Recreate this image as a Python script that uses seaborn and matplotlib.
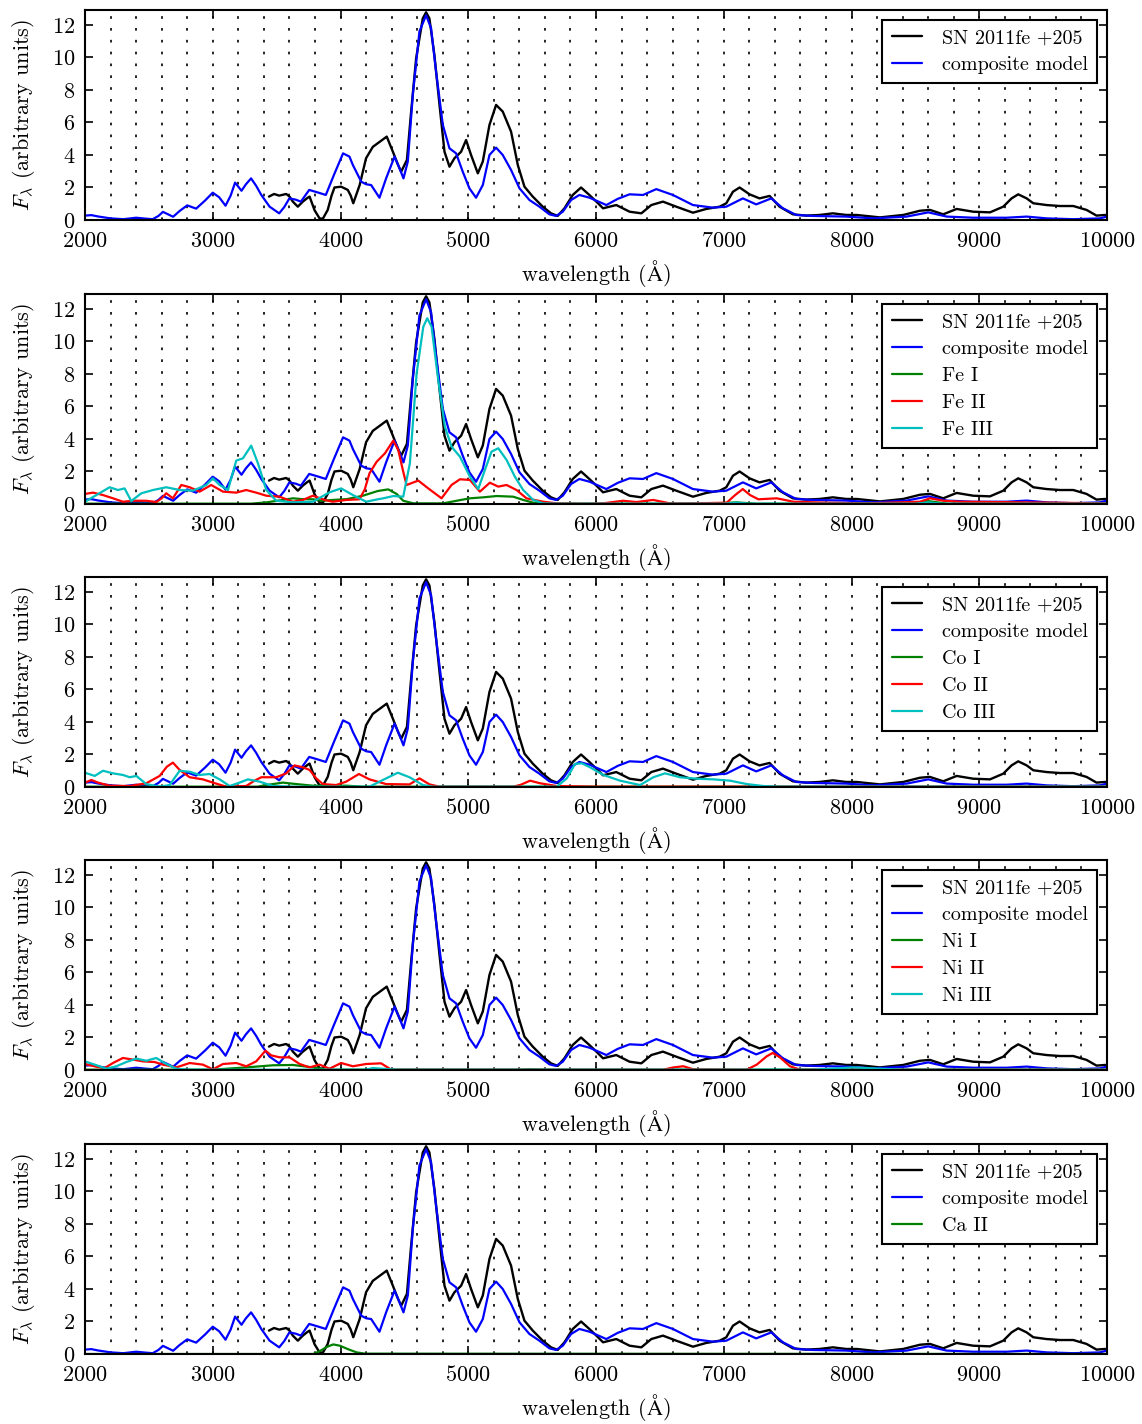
import matplotlib
matplotlib.use("Agg")
import matplotlib.pyplot as plt
from matplotlib.ticker import MultipleLocator
import seaborn as sns

# ---------------------------------------------------------------- data
obs_wl = [3440, 3480, 3520, 3575, 3600, 3627, 3666, 3705, 3740, 3758, 3797, 3836, 3862, 3900,
          3930, 3953, 4005, 4057, 4080, 4100, 4150, 4200, 4253, 4305, 4362, 4410, 4450, 4475,
          4520, 4553, 4592, 4644, 4670, 4696, 4735, 4775, 4814, 4853, 4892, 4944, 4983, 5022,
          5075, 5114, 5166, 5218, 5270, 5335, 5388, 5440, 5505, 5583, 5648, 5700, 5753, 5818,
          5883, 5948, 6003, 6055, 6159, 6263, 6355, 6433, 6524, 6628, 6759, 6863, 6968, 7020,
          7072, 7124, 7202, 7280, 7359, 7437, 7541, 7645, 7750, 7854, 7958, 8040, 8223, 8405,
          8536, 8614, 8718, 8823, 8953, 9084, 9188, 9253, 9305, 9371, 9423, 9527, 9632, 9736,
          9840, 9918, 9984, 10000]
obs_fl = [1.44, 1.6, 1.5, 1.6, 1.45, 1.13, 0.82, 1.13, 1.35, 1.44, 0.6, 0.1, 0.08, 0.62,
          1.5, 2.0, 2.05, 1.85, 1.5, 1.03, 2.15, 3.8, 4.5, 4.8, 5.13, 4.2, 3.4, 2.97,
          3.7, 6.67, 9.95, 12.4, 12.78, 12.4, 10.15, 7.08, 4.2, 3.28, 3.8, 4.2, 4.92, 4.0,
          2.87, 3.6, 5.85, 7.08, 6.67, 5.44, 3.38, 2.05, 1.44, 0.82, 0.41, 0.25, 0.72, 1.54,
          2.0, 1.54, 1.13, 0.72, 0.92, 0.51, 0.41, 0.92, 1.13, 0.82, 0.45, 0.68, 0.82, 1.03,
          1.74, 2.0, 1.58, 1.33, 1.48, 0.82, 0.35, 0.27, 0.31, 0.41, 0.31, 0.31, 0.16, 0.31,
          0.57, 0.62, 0.35, 0.68, 0.51, 0.47, 0.82, 1.33, 1.58, 1.33, 1.03, 0.92, 0.86, 0.86,
          0.62, 0.27, 0.31, 0.3]

model_wl = [2000, 2050, 2100, 2200, 2300, 2400, 2480, 2530, 2575, 2610, 2650, 2690, 2740, 2800,
            2870, 2940, 3000, 3050, 3100, 3140, 3175, 3225, 3260, 3300, 3340, 3380, 3445, 3520,
            3560, 3600, 3650, 3690, 3755, 3820, 3885, 3950, 4020, 4070, 4097, 4162, 4200, 4240,
            4305, 4357, 4423, 4462, 4493, 4527, 4566, 4618, 4670, 4709, 4748, 4801, 4853, 4905,
            4957, 5009, 5061, 5114, 5166, 5218, 5270, 5335, 5401, 5479, 5557, 5635, 5687, 5740,
            5805, 5870, 5950, 6081, 6170, 6263, 6368, 6472, 6602, 6759, 6915, 7020, 7150, 7254,
            7372, 7463, 7567, 7698, 7958, 8171, 8432, 8601, 8745, 8953, 9214, 9371, 9527, 9736,
            9944, 10000]
model_fl = [0.27, 0.3, 0.22, 0.1, 0.05, 0.14, 0.08, 0.05, 0.25, 0.5, 0.35, 0.2, 0.55, 0.9,
            0.7, 1.2, 1.68, 1.4, 0.88, 1.5, 2.3, 1.8, 2.2, 2.56, 2.1, 1.54, 0.82, 0.41,
            0.8, 1.33, 1.25, 1.13, 1.85, 1.7, 1.54, 2.8, 4.1, 3.9, 3.38, 2.36, 2.2, 2.15,
            1.37, 2.56, 3.9, 3.18, 2.56, 3.6, 7.7, 11.6, 12.6, 11.8, 9.13, 5.85, 4.41, 4.1,
            2.97, 1.95, 1.37, 2.15, 4.0, 4.45, 4.0, 3.08, 1.95, 1.23, 0.82, 0.35, 0.25, 0.51,
            1.23, 1.54, 1.37, 0.92, 1.3, 1.58, 1.54, 1.9, 1.54, 0.92, 0.76, 0.82, 1.33, 0.96,
            1.33, 0.72, 0.31, 0.25, 0.21, 0.1, 0.21, 0.47, 0.21, 0.14, 0.14, 0.21, 0.1, 0.05,
            0.1, 0.21]

fe1_wl = [2000, 3300, 3419, 3550, 3627, 3700, 3784, 3850, 3940, 4050, 4175, 4292, 4374, 4439,
          4491, 4570, 4804, 4909, 5013, 5117, 5222, 5352, 5430, 5508, 5600, 6900, 7100, 7250,
          8450, 8600, 8750, 10000]
fe1_fl = [0.02, 0.02, 0.1, 0.25, 0.35, 0.3, 0.29, 0.2, 0.25, 0.3, 0.51, 0.8, 0.9, 0.62,
          0.2, 0.04, 0.04, 0.2, 0.35, 0.41, 0.49, 0.45, 0.25, 0.08, 0.02, 0.02, 0.1, 0.02,
          0.02, 0.18, 0.02, 0.02]

fe2_wl = [2000, 2063, 2141, 2219, 2297, 2376, 2480, 2558, 2600, 2636, 2688, 2754, 2819, 2897,
          2988, 3080, 3184, 3262, 3340, 3419, 3523, 3627, 3705, 3784, 3875, 3940, 4045, 4149,
          4190, 4227, 4283, 4348, 4413, 4452, 4491, 4517, 4609, 4687, 4791, 4869, 4935, 5013,
          5091, 5169, 5235, 5300, 5378, 5456, 5587, 5691, 5926, 6056, 6212, 6317, 6447, 6578,
          6763, 7023, 7089, 7149, 7206, 7271, 7415, 7545, 7806, 8119, 8536, 8614, 8719, 8849,
          9110, 9371, 10000]
fe2_fl = [0.62, 0.7, 0.55, 0.35, 0.14, 0.2, 0.2, 0.12, 0.35, 0.66, 0.35, 1.17, 1.03, 0.76,
          1.17, 0.76, 0.7, 0.86, 0.7, 0.51, 0.45, 0.14, 0.25, 0.51, 0.25, 0.14, 0.25, 0.29,
          0.9, 1.89, 2.6, 3.12, 3.9, 3.32, 1.99, 1.17, 1.44, 0.96, 0.35, 1.17, 1.52, 1.48,
          0.76, 1.31, 1.07, 1.17, 0.86, 0.35, 0.14, 0.04, 0.02, 0.04, 0.2, 0.12, 0.25, 0.04,
          0.04, 0.08, 0.55, 0.92, 0.55, 0.29, 0.35, 0.14, 0.08, 0.04, 0.14, 0.35, 0.2, 0.14,
          0.12, 0.1, 0.04]

fe3_wl = [2000, 2089, 2193, 2258, 2310, 2362, 2441, 2532, 2636, 2741, 2845, 2949, 3001, 3054,
          3119, 3184, 3236, 3301, 3354, 3419, 3497, 3627, 3784, 3914, 4005, 4097, 4201, 4292,
          4335, 4413, 4491, 4543, 4596, 4648, 4679, 4713, 4765, 4817, 4869, 4935, 5013, 5078,
          5130, 5182, 5235, 5300, 5365, 5430, 5508, 5587, 5700, 7000, 7100, 7200, 8500, 8600,
          8700, 10000]
fe3_fl = [0.14, 0.55, 1.03, 0.86, 0.96, 0.18, 0.66, 0.86, 1.03, 0.86, 0.82, 1.17, 1.58, 1.17,
          0.86, 2.67, 2.81, 3.59, 2.5, 0.86, 0.2, 0.1, 0.14, 0.72, 0.96, 0.55, 0.14, 0.29,
          0.35, 0.49, 0.45, 2.5, 8.04, 10.9, 11.43, 10.9, 7.63, 4.76, 3.53, 2.91, 1.68, 0.92,
          2.09, 3.22, 3.43, 2.71, 1.68, 0.86, 0.25, 0.04, 0.02, 0.02, 0.08, 0.02, 0.02, 0.1,
          0.02, 0.02]

co1_wl = [2000, 3350, 3419, 3549, 3654, 3784, 4045, 4175, 10000]
co1_fl = [0.02, 0.02, 0.12, 0.27, 0.18, 0.08, 0.08, 0.02, 0.02]

co2_wl = [2000, 2050, 2102, 2193, 2350, 2480, 2584, 2641, 2688, 2741, 2819, 2923, 3001, 3106,
          3262, 3327, 3380, 3497, 3575, 3640, 3706, 3758, 3810, 3862, 3966, 4045, 4144, 4227,
          4357, 4540, 4618, 4697, 4775, 5350, 5406, 5484, 5562, 5693, 6000, 10000]
co2_fl = [0.27, 0.43, 0.27, 0.08, 0.06, 0.23, 0.68, 1.25, 1.5, 1.05, 0.6, 0.47, 0.27, 0.02,
          0.06, 0.39, 0.6, 0.6, 0.84, 1.33, 1.21, 1.05, 0.53, 0.18, 0.12, 0.33, 0.8, 0.47,
          0.18, 0.16, 0.53, 0.16, 0.02, 0.02, 0.12, 0.39, 0.23, 0.06, 0.02, 0.02]

co3_wl = [2000, 2076, 2141, 2219, 2297, 2350, 2402, 2480, 2584, 2662, 2741, 2819, 2897, 2975,
          3054, 3132, 3210, 3275, 3367, 3471, 3654, 4227, 4357, 4449, 4540, 4645, 4723, 5693,
          5771, 5836, 5888, 5954, 6058, 6188, 6345, 6449, 6540, 6658, 6788, 6919, 7049, 7180,
          7310, 7440, 10000]
co3_fl = [0.88, 0.68, 1.0, 0.84, 0.74, 0.6, 0.68, 0.18, 0.02, 0.12, 1.0, 0.94, 0.74, 0.8,
          0.47, 0.06, 0.27, 0.47, 0.33, 0.06, 0.02, 0.02, 0.53, 0.88, 0.6, 0.12, 0.02, 0.02,
          0.53, 1.42, 1.46, 1.21, 0.74, 0.39, 0.12, 0.6, 0.84, 0.6, 0.51, 0.47, 0.39, 0.18,
          0.06, 0.02, 0.02]

ni1_wl = [2000, 3001, 3262, 3471, 3627, 3784, 3888, 5400, 5484, 5600, 10000]
ni1_fl = [0.02, 0.02, 0.16, 0.29, 0.31, 0.16, 0.02, 0.02, 0.05, 0.02, 0.02]

ni2_wl = [2000, 2089, 2154, 2219, 2297, 2376, 2454, 2545, 2610, 2715, 2819, 2923, 3001, 3080,
          3184, 3262, 3340, 3413, 3458, 3523, 3601, 3680, 3758, 3836, 3914, 4005, 4097, 4201,
          4318, 4397, 6527, 6606, 6684, 6762, 7180, 7258, 7336, 7383, 7440, 7518, 7597, 10000]
ni2_fl = [0.37, 0.2, 0.12, 0.43, 0.74, 0.64, 0.53, 0.49, 0.33, 0.16, 0.43, 0.33, 0.04, 0.37,
          0.43, 0.23, 0.53, 1.19, 0.9, 0.78, 0.78, 0.37, 0.16, 0.33, 0.08, 0.43, 0.23, 0.37,
          0.41, 0.02, 0.02, 0.16, 0.23, 0.04, 0.02, 0.33, 0.84, 1.05, 0.78, 0.23, 0.02, 0.02]

ni3_wl = [2000, 2076, 2167, 2245, 2323, 2402, 2480, 2558, 2636, 2715, 2800, 4200, 4253, 4357,
          4450, 7700, 7832, 8014, 8223, 8400, 10000]
ni3_fl = [0.53, 0.33, 0.08, 0.23, 0.49, 0.7, 0.57, 0.74, 0.37, 0.08, 0.02, 0.02, 0.12, 0.06,
          0.02, 0.02, 0.08, 0.16, 0.08, 0.02, 0.02]

ca2_wl = [2000, 3787, 3839, 3891, 3943, 3995, 4061, 4126, 4191, 10000]
ca2_fl = [0.0, 0.0, 0.18, 0.43, 0.59, 0.51, 0.29, 0.1, 0.02, 0.0]

obs_label = "SN 2011fe +205"
model_label = "composite model"

panels = [
    [],
    [("Fe I", fe1_wl, fe1_fl), ("Fe II", fe2_wl, fe2_fl), ("Fe III", fe3_wl, fe3_fl)],
    [("Co I", co1_wl, co1_fl), ("Co II", co2_wl, co2_fl), ("Co III", co3_wl, co3_fl)],
    [("Ni I", ni1_wl, ni1_fl), ("Ni II", ni2_wl, ni2_fl), ("Ni III", ni3_wl, ni3_fl)],
    [("Ca II", ca2_wl, ca2_fl)],
]
ion_colors = [(0.0, 0.5, 0.0), (1.0, 0.0, 0.0), (0.0, 0.75, 0.75)]

# ---------------------------------------------------------------- style
sns.set_theme(style="white")
plt.rcParams.update({
    "font.family": ["cmr10", "DejaVu Serif"],
    "mathtext.fontset": "cm",
    "axes.formatter.use_mathtext": True,
    "axes.unicode_minus": False,
    "axes.edgecolor": "black",
    "axes.linewidth": 1.5,
    "xtick.bottom": True, "xtick.top": True,
    "ytick.left": True, "ytick.right": True,
    "xtick.direction": "in", "ytick.direction": "in",
    "xtick.major.size": 6, "ytick.major.size": 6,
    "xtick.major.width": 1.2, "ytick.major.width": 1.2,
    "xtick.minor.size": 0, "ytick.minor.size": 0,
    "xtick.color": "black", "ytick.color": "black",
    "xtick.labelsize": 16, "ytick.labelsize": 16,
    "axes.labelsize": 16,
    "text.color": "black", "axes.labelcolor": "black",
    "xtick.major.pad": 8, "ytick.major.pad": 7,
})

fig = plt.figure(figsize=(11.42, 14.24), dpi=100)
W, H = 1142.0, 1424.0
left, right = 85 / W, 1107 / W
tops = [10, 294, 577, 860, 1144]
ph = 210

for i, comps in enumerate(panels):
    ax = fig.add_axes([left, 1 - (tops[i] + ph) / H, right - left, ph / H])
    sns.lineplot(x=obs_wl, y=obs_fl, ax=ax, color="black", linewidth=1.7,
                 label=obs_label, sort=False, estimator=None)
    sns.lineplot(x=model_wl, y=model_fl, ax=ax, color=(0, 0, 1), linewidth=1.6,
                 label=model_label, sort=False, estimator=None)
    for (name, wl, fl), col in zip(comps, ion_colors):
        sns.lineplot(x=wl, y=fl, ax=ax, color=col, linewidth=1.6,
                     label=name, sort=False, estimator=None)

    ax.set_xlim(2000, 10000)
    ax.set_ylim(0, 12.92)
    ax.xaxis.set_major_locator(MultipleLocator(1000))
    ax.xaxis.set_minor_locator(MultipleLocator(200))
    ax.yaxis.set_major_locator(MultipleLocator(2))
    ax.grid(True, which="both", axis="x", color="black",
            linestyle=(0, (1.6, 5.5)), linewidth=1.2)
    ax.grid(False, axis="y")
    ax.set_axisbelow(True)
    for sp in ax.spines.values():
        sp.set_visible(True)
        sp.set_color("black")
        sp.set_linewidth(1.5)

    ax.set_xlabel(r"wavelength ($\mathrm{\AA}$)", labelpad=5)
    ax.set_ylabel(r"$F_\lambda$ (arbitrary units)", labelpad=11)

    leg = ax.legend(loc="upper right", fontsize=14.5, frameon=True, fancybox=False,
                    framealpha=1.0, edgecolor="black", handlelength=1.5,
                    handletextpad=1.0, labelspacing=0.44, borderpad=0.45,
                    borderaxespad=0.5)
    leg.get_frame().set_linewidth(1.5)

fig.savefig("out.png", dpi=100)
